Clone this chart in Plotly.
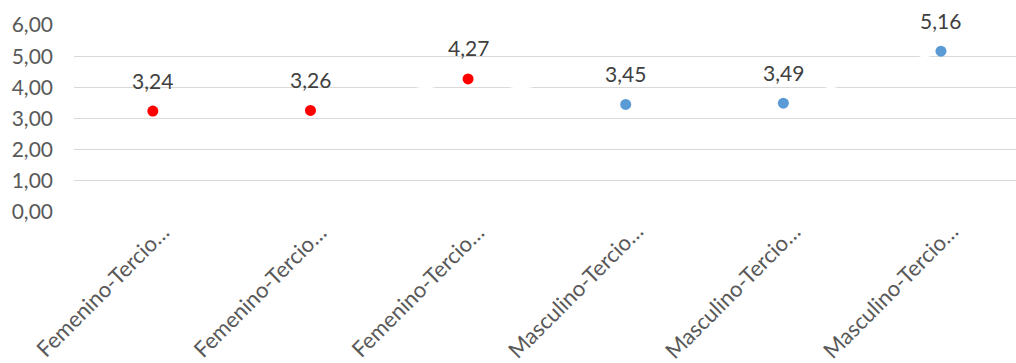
import plotly.graph_objects as go

categories = ["Femenino-Tercio…", "Femenino-Tercio…", "Femenino-Tercio…",
              "Masculino-Tercio…", "Masculino-Tercio…", "Masculino-Tercio…"]
values = [3.24, 3.26, 4.27, 3.45, 3.49, 5.16]
point_colors = ["#FF0000", "#FF0000", "#FF0000", "#5B9BD5", "#5B9BD5", "#5B9BD5"]
y_ticks = [0, 1, 2, 3, 4, 5, 6]
y_ticklabels = ["0,00", "1,00", "2,00", "3,00", "4,00", "5,00", "6,00"]

xs = list(range(len(values)))
FONT = "Lato, 'Open Sans', sans-serif"

fig = go.Figure()
fig.add_trace(go.Scatter(x=xs, y=values, mode="lines",
                         line=dict(color="white", width=3),
                         hoverinfo="skip", showlegend=False, cliponaxis=False))
fig.add_trace(go.Scatter(x=xs, y=values, mode="markers",
                         marker=dict(color=point_colors, size=11, line=dict(width=0)),
                         showlegend=False, cliponaxis=False))

# data labels
for x, v in zip(xs, values):
    fig.add_annotation(x=x, y=v, text=f"{v:.2f}".replace(".", ","),
                       showarrow=False, yshift=31, yanchor="middle",
                       font=dict(family=FONT, size=21, color="#404040"))

# rotated category labels
for x, c in zip(xs, categories):
    fig.add_annotation(x=x, xref="x", y=0, yref="paper", text=c,
                       showarrow=False, textangle=-45, borderpad=0,
                       xanchor="center", yanchor="middle", xshift=-51, yshift=-78,
                       font=dict(family=FONT, size=22, color="#595959"))

fig.update_layout(
    width=1016, height=363,
    margin=dict(l=74, r=0, t=25, b=151, autoexpand=False),
    paper_bgcolor="white", plot_bgcolor="white",
    font=dict(family=FONT, size=21, color="#595959"),
)
fig.update_xaxes(range=[-0.5, 5.476], tickmode="array", tickvals=xs,
                 showticklabels=False, showgrid=False, automargin=False,
                 zeroline=False, showline=False, ticks="")
fig.update_yaxes(range=[0, 6], tickmode="array", tickvals=y_ticks,
                 ticktext=y_ticklabels, showgrid=True, gridcolor="#D9D9D9",
                 gridwidth=1.3, zeroline=False, showline=False, ticks="",
                 automargin=False, ticklabelstandoff=20,
                 tickfont=dict(family=FONT, size=21, color="#595959"))

fig.write_html("out.html")
